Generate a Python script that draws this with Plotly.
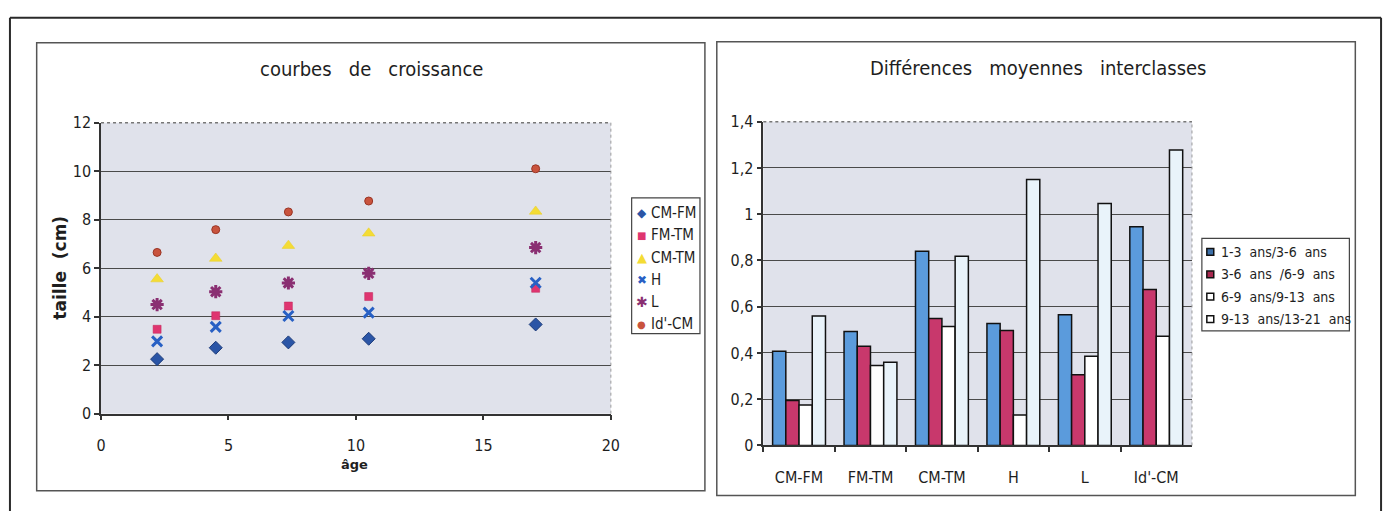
import plotly.graph_objects as go

# ---- growth curves (scatter) ----
ages = [2.2, 4.5, 7.35, 10.5, 17.05]
cm_fm = [2.25, 2.72, 2.94, 3.09, 3.68]
fm_tm = [3.48, 4.04, 4.44, 4.83, 5.17]
cm_tm = [5.55, 6.4, 6.93, 7.44, 8.34]
h_vals = [2.98, 3.58, 4.03, 4.17, 5.40]
l_vals = [4.50, 5.03, 5.39, 5.79, 6.85]
id_cm = [6.65, 7.59, 8.32, 8.77, 10.1]

# ---- mean inter-class differences (bars) ----
measures = ["CM-FM", "FM-TM", "CM-TM", "H", "L", "Id'-CM"]
d_1_3 = [0.407, 0.493, 0.84, 0.528, 0.565, 0.946]
d_3_6 = [0.194, 0.429, 0.549, 0.497, 0.306, 0.675]
d_6_9 = [0.175, 0.346, 0.514, 0.132, 0.386, 0.472]
d_9_13 = [0.56, 0.36, 0.818, 1.15, 1.046, 1.278]
bar_names = ["1-3  ans/3-6  ans", "3-6  ans  /6-9  ans",
             "6-9  ans/9-13  ans", "9-13  ans/13-21  ans"]

W, H = 1396, 521
FONT = "Liberation Sans Narrow, DejaVu Sans Condensed, Arial Narrow, sans-serif"
BOLD = "DejaVu Sans, sans-serif"
SYM = "DejaVu Sans, sans-serif"
TXT = "#1e1e1e"


def px(x):
    return x / W


def py(y):
    return (H - y) / H


fig = go.Figure()

# name, values, plotly symbol, size, fill, outline, legend glyph, glyph size
scatter_series = [
    ("CM-FM", cm_fm, "diamond", 10, "#2b55a6", dict(color="#1d3c7a", width=1), "◆", 12),
    ("FM-TM", fm_tm, "square", 8, "#df3570", dict(color="#c02458", width=0.5), "■", 10),
    ("CM-TM", cm_tm, "triangle-up", 11, "#f4dc35", dict(color="#e8cc20", width=0.5), "▲", 13),
    ("H", h_vals, "x-thin-open", 10, "#2860c4", dict(color="#2860c4", width=3), "✖", 12),
    ("L", l_vals, "asterisk-open", 11, "#8a2f72", dict(color="#8a2f72", width=3), "✱", 14),
    ("Id'-CM", id_cm, "circle", 8, "#c9533d", dict(color="#9a3525", width=1), "●", 10),
]
for name, vals, sym, size, col, line, _, _ in scatter_series:
    fig.add_trace(go.Scatter(
        x=ages, y=vals, name=name, mode="markers", showlegend=False,
        marker=dict(symbol=sym, size=size, color=col, line=line),
        xaxis="x", yaxis="y",
    ))

bar_colors = ["#5b9bdc", "#c8386c", "#ffffff", "#e9f3fa"]
swatch_colors = ["#3c6fa8", "#a8284f", "#ffffff", "#ffffff"]
for name, vals, col in zip(bar_names, [d_1_3, d_3_6, d_6_9, d_9_13], bar_colors):
    fig.add_trace(go.Bar(
        x=measures, y=vals, name=name, showlegend=False,
        marker=dict(color=col, line=dict(color="#111111", width=1.5)),
        xaxis="x2", yaxis="y2",
    ))

axis_common = dict(
    showline=True, linecolor="#333333", linewidth=1.5,
    ticks="outside", ticklen=5, tickcolor="#333333", tickwidth=1.5,
    tickfont=dict(family=FONT, size=16, color=TXT),
    zeroline=False,
)

fig.update_layout(
    width=W, height=H,
    margin=dict(l=0, r=0, t=0, b=0),
    paper_bgcolor="#ffffff",
    plot_bgcolor="#e0e2eb",
    separators=", ",
    barmode="group", bargap=0.26, bargroupgap=0,
    font=dict(family=FONT, color=TXT),
    showlegend=False,
    xaxis=dict(domain=[px(97), px(612)], range=[0, 20], dtick=5,
               showgrid=False, anchor="y", ticklabelstandoff=11, **axis_common),
    yaxis=dict(domain=[py(420), py(118)], range=[0, 12], dtick=2,
               showgrid=True, gridcolor="#4a4a4a", gridwidth=1.2,
               anchor="x", **axis_common),
    xaxis2=dict(domain=[px(766), px(1199)], tickson="boundaries",
                showgrid=False, anchor="y2", ticklabelstandoff=17, **axis_common),
    yaxis2=dict(domain=[py(453), py(117)], range=[0, 1.4], dtick=0.2,
                showgrid=True, gridcolor="#4a4a4a", gridwidth=1.2,
                anchor="x2", **axis_common),
)

frame = dict(type="line", xref="paper", yref="paper",
             line=dict(color="#2a2a2a", width=2))
shapes = [
    # outer frame (runs off the bottom of the page)
    dict(frame, x0=px(5), x1=px(5), y0=0, y1=py(9)),
    dict(frame, x0=px(5), x1=px(1390), y0=py(9), y1=py(9)),
    dict(frame, x0=px(1390), x1=px(1390), y0=0, y1=py(9)),
    # panel frames
    dict(type="rect", xref="paper", yref="paper", x0=px(32), x1=px(707),
         y0=py(500), y1=py(35), line=dict(color="#555555", width=1.5)),
    dict(type="rect", xref="paper", yref="paper", x0=px(719), x1=px(1364),
         y0=py(505), y1=py(34), line=dict(color="#555555", width=1.5)),
    # dotted plot-area borders (top, right)
    dict(type="line", xref="paper", yref="paper", x0=px(97), x1=px(612),
         y0=py(118), y1=py(118), line=dict(color="#777777", width=1.5, dash="dot")),
    dict(type="line", xref="paper", yref="paper", x0=px(612), x1=px(612),
         y0=py(420), y1=py(118), line=dict(color="#999999", width=1, dash="dot")),
    dict(type="line", xref="paper", yref="paper", x0=px(766), x1=px(1199),
         y0=py(117), y1=py(117), line=dict(color="#777777", width=1.5, dash="dot")),
    dict(type="line", xref="paper", yref="paper", x0=px(1199), x1=px(1199),
         y0=py(453), y1=py(117), line=dict(color="#999999", width=1, dash="dot")),
    # legend boxes
    dict(type="rect", xref="paper", yref="paper", x0=px(633), x1=px(702),
         y0=py(337), y1=py(196), fillcolor="#ffffff",
         line=dict(color="#444444", width=1.2)),
    dict(type="rect", xref="paper", yref="paper", x0=px(1209), x1=px(1358),
         y0=py(334), y1=py(238), fillcolor="#ffffff",
         line=dict(color="#444444", width=1.2)),
]

annotations = [
    dict(text="courbes   de   croissance", x=px(370), y=py(62),
         font=dict(family=FONT, size=20, color=TXT)),
    dict(text="Différences   moyennes   interclasses", x=px(1044), y=py(61),
         font=dict(family=FONT, size=20, color=TXT)),
    dict(text="<b>taille  (cm)</b>", x=px(56), y=py(268), textangle=-90,
         font=dict(family=BOLD, size=17, color=TXT)),
    dict(text="<b>âge</b>", x=px(353), y=py(473),
         font=dict(family=BOLD, size=13, color=TXT)),
]

# legend of the growth-curve panel
for i, (name, _, _, _, col, _, glyph, gsize) in enumerate(scatter_series):
    yc = py(212 + 23 * i)
    annotations.append(dict(text=glyph, x=px(643), y=yc,
                            font=dict(family=SYM, size=gsize, color=col)))
    annotations.append(dict(text=name, x=px(651), y=yc, xanchor="left",
                            font=dict(family=FONT, size=15, color=TXT)))

# legend of the bar panel
for i, (name, col) in enumerate(zip(bar_names, swatch_colors)):
    yc = 252 + 23.3 * i
    shapes.append(dict(type="rect", xref="paper", yref="paper",
                       x0=px(1214), x1=px(1221), y0=py(yc + 3.5), y1=py(yc - 3.5),
                       fillcolor=col, line=dict(color="#111111", width=1.5)))
    annotations.append(dict(text=name, x=px(1226), y=py(yc), xanchor="left",
                            font=dict(family=FONT, size=14, color=TXT)))

for a in annotations:
    a.setdefault("xanchor", "center")
    a.update(xref="paper", yref="paper", showarrow=False, yanchor="middle")

fig.update_layout(shapes=shapes, annotations=annotations)

fig.write_html("out.html")
